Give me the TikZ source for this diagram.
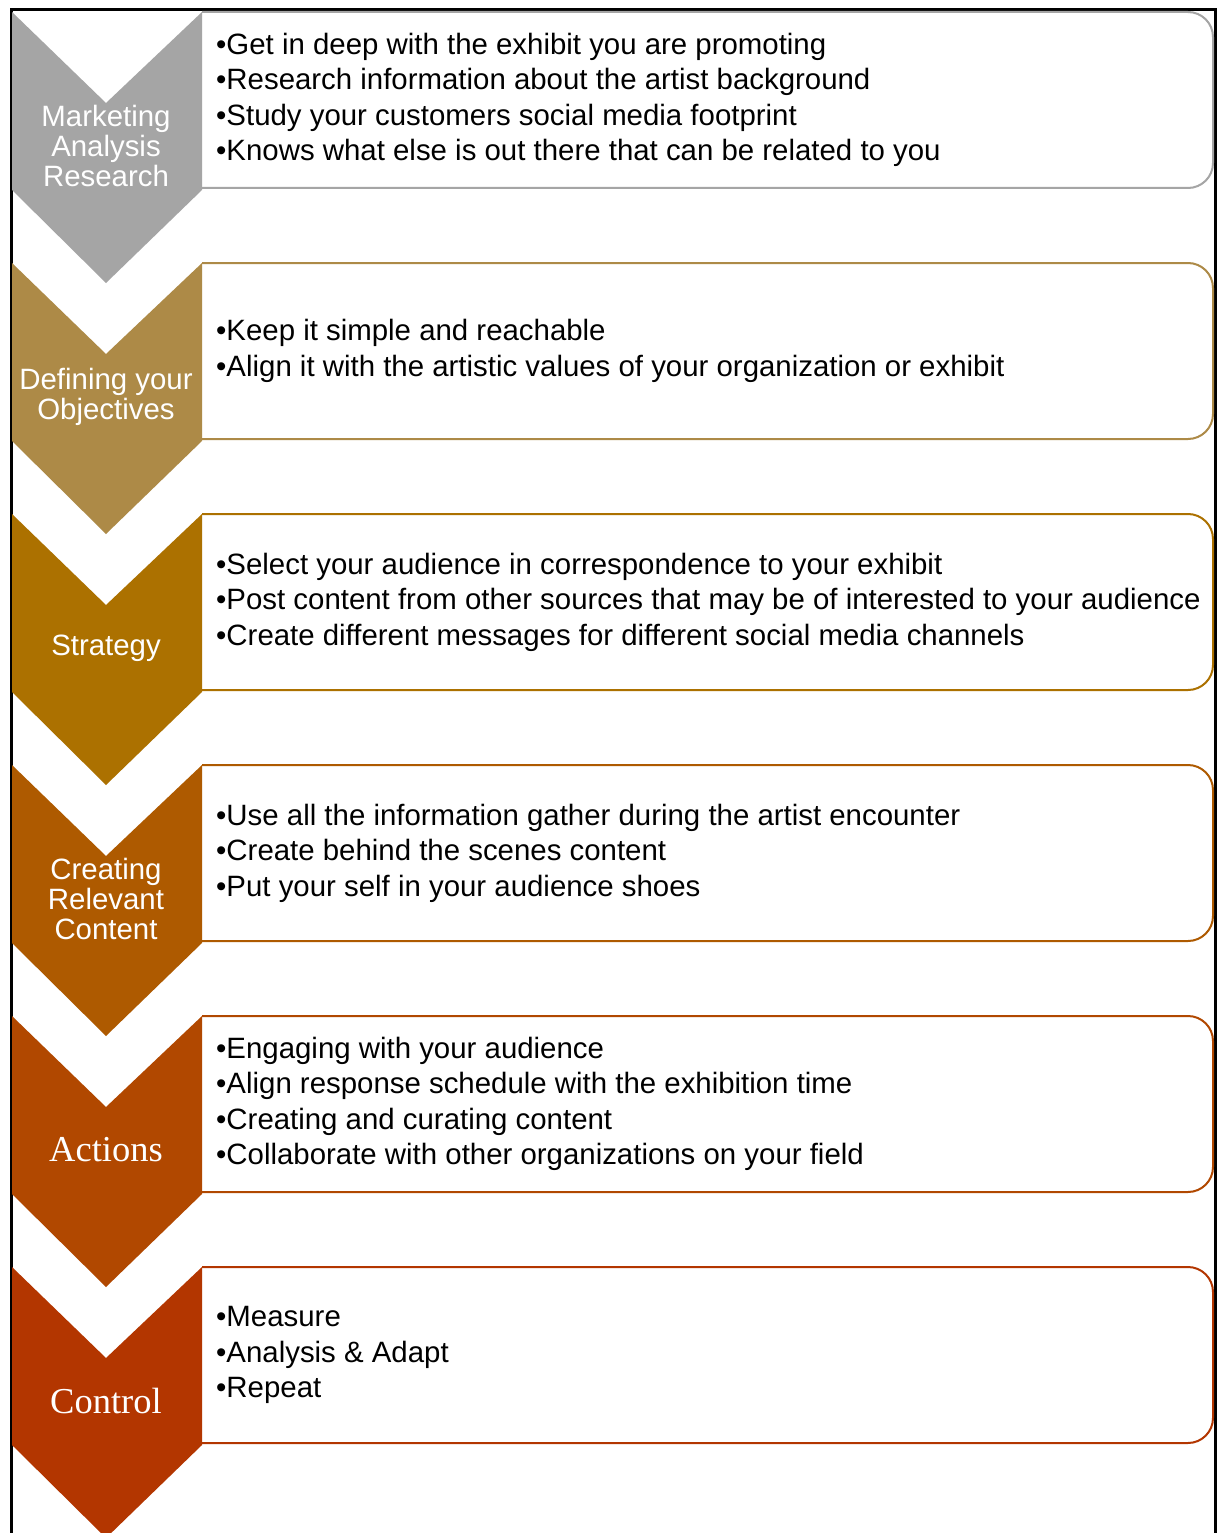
\documentclass[tikz,border=0pt]{standalone}
\usepackage{fontspec}
\setmainfont{Liberation Sans}
\newfontfamily\labserif{Liberation Serif}
\definecolor{cA}{HTML}{A5A5A5}
\definecolor{cB}{HTML}{AD8A47}
\definecolor{cC}{HTML}{AC7100}
\definecolor{cD}{HTML}{AE5A00}
\definecolor{cE}{HTML}{B14800}
\definecolor{cF}{HTML}{B33600}
\begin{document}
\begin{tikzpicture}[x=1pt,y=-1pt,
  bul/.style={anchor=west,align=left,inner sep=0pt,font=\fontsize{29.4}{35.5}\selectfont,text=black},
  lab/.style={align=center,inner sep=0pt,font=\fontsize{29.4}{30}\selectfont,text=white},
  labs/.style={align=center,inner sep=0pt,font=\labserif\fontsize{36.5}{38}\selectfont,text=white},
  boxline/.style={line width=2pt,rounded corners=25pt}]
\useasboundingbox (0,0) rectangle (1222,1533);
\fill[white] (0,0) rectangle (1222,1533);
% frame
\draw[line width=3pt] (11,1545) -- (11,10) -- (1215,10) -- (1215,1545);
% steps
\foreach \i/\c in {0/cA,1/cB,2/cC,3/cD,4/cE,5/cF}{
  \pgfmathsetmacro{\T}{12+251*\i}
  \draw[boxline,draw=\c] (202,\T) -- (1213,\T) -- (1213,\T+176) -- (202,\T+176);
  \fill[\c] (12,\T) -- (106,\T+91) -- (202,\T) -- (202,\T+178) -- (106,\T+271) -- (12,\T+178) -- cycle;
}
% labels
\node[lab] (l1) at (106,146) {Marketing\\Analysis\\Research};
\node[lab] (l2) at (106,397) {Defining your\\Objectives};
\node[lab] (l3) at (106,648) {Strategy};
\node[lab] (l4) at (106,899) {Creating\\Relevant\\Content};
\node[labs] (l5) at (106,1150) {Actions};
\node[labs] (l6) at (106,1401) {Control};
% bullets
\node[bul] (b1) at (216,100) {•Get in deep with the exhibit you are promoting\\•Research information about the artist background\\•Study your customers social media footprint\\•Knows what else is out there that can be related to you};
\node[bul] (b2) at (216,351) {•Keep it simple and reachable\\•Align it with the artistic values of your organization or exhibit};
\node[bul] (b3) at (216,602) {•Select your audience in correspondence to your exhibit\\•Post content from other sources that may be of interested to your audience\\•Create different messages for different social media channels};
\node[bul] (b4) at (216,853) {•Use all the information gather during the artist encounter\\•Create behind the scenes content\\•Put your self in your audience shoes};
\node[bul] (b5) at (216,1104) {•Engaging with your audience\\•Align response schedule with the exhibition time\\•Creating and curating content\\•Collaborate with other organizations on your field};
\node[bul] (b6) at (216,1355) {•Measure\\•Analysis \& Adapt\\•Repeat};
\end{tikzpicture}
\end{document}
